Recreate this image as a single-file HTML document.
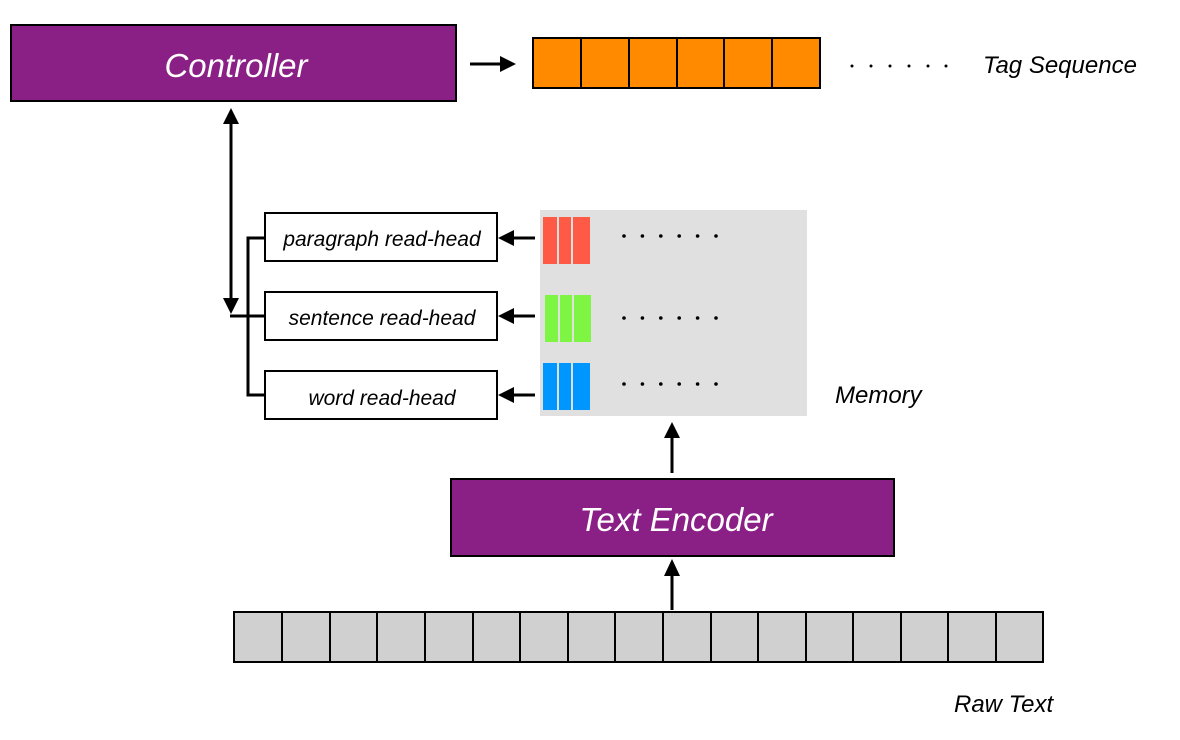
<!DOCTYPE html>
<html><head><style>body{margin:0;background:#fff}svg{display:block}</style></head><body>
<svg width="1180" height="740" viewBox="0 0 1180 740" xmlns="http://www.w3.org/2000/svg" font-family="Liberation Sans, sans-serif" font-style="italic">
<rect x="11" y="25" width="445" height="76" fill="#8a1f85" stroke="#000" stroke-width="2"/>
<text x="236" y="77" font-size="33" fill="#fff" text-anchor="middle">Controller</text>
<line x1="470" y1="64" x2="500" y2="64" stroke="#000" stroke-width="3"/>
<polygon points="500,56 516,64 500,72" fill="#000"/>
<g stroke="#000" stroke-width="2" fill="#ff8a00">
<rect x="533" y="38" width="287" height="50"/>
<line x1="581" y1="38" x2="581" y2="88"/><line x1="629" y1="38" x2="629" y2="88"/><line x1="677" y1="38" x2="677" y2="88"/><line x1="724" y1="38" x2="724" y2="88"/><line x1="772" y1="38" x2="772" y2="88"/>
</g>
<g fill="#000" transform="translate(0,66)"><circle cx="852" cy="0" r="1.5"/><circle cx="871" cy="0" r="1.5"/><circle cx="890" cy="0" r="1.5"/><circle cx="909" cy="0" r="1.5"/><circle cx="928" cy="0" r="1.5"/><circle cx="946" cy="0" r="1.5"/></g>
<text x="983" y="73" font-size="24">Tag  Sequence</text>
<line x1="231" y1="122" x2="231" y2="300" stroke="#000" stroke-width="3"/>
<polygon points="223,124 231,108 239,124" fill="#000"/>
<polygon points="223,298 231,314 239,298" fill="#000"/>
<g stroke="#000" stroke-width="3" fill="none">
<line x1="230" y1="316" x2="265" y2="316"/>
<polyline points="265,238 248,238 248,395 265,395"/>
</g>
<g stroke="#000" stroke-width="2" fill="#fff">
<rect x="265" y="213" width="232" height="48"/>
<rect x="265" y="292" width="232" height="48"/>
<rect x="265" y="371" width="232" height="48"/>
</g>
<g font-size="21" text-anchor="middle">
<text x="382" y="246">paragraph read-head</text>
<text x="382" y="325">sentence read-head</text>
<text x="382" y="405">word read-head</text>
</g>
<rect x="540" y="210" width="267" height="206" fill="#e0e0e0"/>
<g fill="#ff5a45"><rect x="543" y="217" width="14" height="47"/><rect x="559" y="217" width="12" height="47"/><rect x="573" y="217" width="17" height="47"/></g>
<g fill="#7ef542"><rect x="545" y="295" width="13" height="47"/><rect x="560" y="295" width="12" height="47"/><rect x="574" y="295" width="17" height="47"/></g>
<g fill="#0096ff"><rect x="543" y="363" width="14" height="47"/><rect x="559" y="363" width="12" height="47"/><rect x="573" y="363" width="17" height="47"/></g>
<g fill="#000">
<g transform="translate(0,236)"><circle cx="624" cy="0" r="1.8"/><circle cx="642.4" cy="0" r="1.8"/><circle cx="660.8" cy="0" r="1.8"/><circle cx="679.2" cy="0" r="1.8"/><circle cx="697.6" cy="0" r="1.8"/><circle cx="716" cy="0" r="1.8"/></g>
<g transform="translate(0,318)"><circle cx="624" cy="0" r="1.8"/><circle cx="642.4" cy="0" r="1.8"/><circle cx="660.8" cy="0" r="1.8"/><circle cx="679.2" cy="0" r="1.8"/><circle cx="697.6" cy="0" r="1.8"/><circle cx="716" cy="0" r="1.8"/></g>
<g transform="translate(0,384)"><circle cx="624" cy="0" r="1.8"/><circle cx="642.4" cy="0" r="1.8"/><circle cx="660.8" cy="0" r="1.8"/><circle cx="679.2" cy="0" r="1.8"/><circle cx="697.6" cy="0" r="1.8"/><circle cx="716" cy="0" r="1.8"/></g>
</g>
<g stroke="#000" stroke-width="3">
<line x1="512" y1="238" x2="535" y2="238"/><line x1="512" y1="316" x2="535" y2="316"/><line x1="512" y1="395" x2="535" y2="395"/>
</g>
<g fill="#000">
<polygon points="514,230 498,238 514,246"/><polygon points="514,308 498,316 514,324"/><polygon points="514,387 498,395 514,403"/>
</g>
<text x="835" y="403" font-size="24">Memory</text>
<line x1="672" y1="438" x2="672" y2="473" stroke="#000" stroke-width="3"/>
<polygon points="664,438 672,422 680,438" fill="#000"/>
<rect x="451" y="479" width="443" height="77" fill="#8a1f85" stroke="#000" stroke-width="2"/>
<text x="676" y="531" font-size="33" fill="#fff" text-anchor="middle">Text Encoder</text>
<line x1="672" y1="575" x2="672" y2="610" stroke="#000" stroke-width="3"/>
<polygon points="664,576 672,559 680,576" fill="#000"/>
<g stroke="#000" stroke-width="2" fill="#d0d0d0">
<rect x="234" y="612" width="809" height="50"/>
<line x1="282" y1="612" x2="282" y2="662"/><line x1="330" y1="612" x2="330" y2="662"/><line x1="377" y1="612" x2="377" y2="662"/><line x1="425" y1="612" x2="425" y2="662"/><line x1="473" y1="612" x2="473" y2="662"/><line x1="520" y1="612" x2="520" y2="662"/><line x1="568" y1="612" x2="568" y2="662"/><line x1="615" y1="612" x2="615" y2="662"/><line x1="663" y1="612" x2="663" y2="662"/><line x1="711" y1="612" x2="711" y2="662"/><line x1="758" y1="612" x2="758" y2="662"/><line x1="806" y1="612" x2="806" y2="662"/><line x1="853" y1="612" x2="853" y2="662"/><line x1="901" y1="612" x2="901" y2="662"/><line x1="948" y1="612" x2="948" y2="662"/><line x1="996" y1="612" x2="996" y2="662"/>
</g>
<text x="954" y="712" font-size="24">Raw Text</text>
</svg>
</body></html>
